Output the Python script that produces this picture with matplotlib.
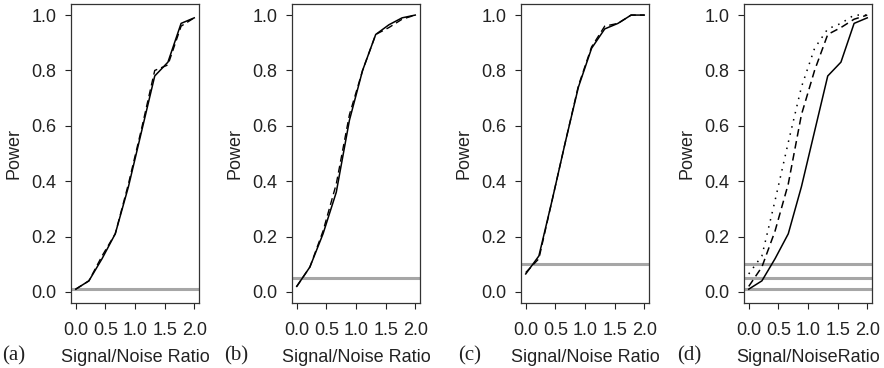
import numpy as np
import matplotlib
matplotlib.use("Agg")
import matplotlib.pyplot as plt

# signal/noise ratio grid
snr = [0.0, 0.222, 0.444, 0.667, 0.889, 1.111, 1.333, 1.556, 1.778, 2.0]

# power curves
a_solid = [0.01, 0.04, 0.12, 0.21, 0.38, 0.58, 0.78, 0.83, 0.97, 0.99]
a_dash = [0.01, 0.04, 0.13, 0.21, 0.39, 0.59, 0.80, 0.82, 0.96, 0.99]
b_solid = [0.02, 0.09, 0.21, 0.36, 0.62, 0.80, 0.93, 0.965, 0.99, 1.0]
b_dash = [0.02, 0.09, 0.22, 0.39, 0.64, 0.80, 0.93, 0.955, 0.985, 1.0]
c_solid = [0.065, 0.13, 0.33, 0.54, 0.74, 0.88, 0.95, 0.97, 1.0, 1.0]
c_dash = [0.07, 0.12, 0.33, 0.54, 0.745, 0.885, 0.96, 0.97, 1.0, 1.0]

alphas = [0.01, 0.05, 0.10]
panel_tags = ["(a)", "(b)", "(c)", "(d)"]
xlabels = ["Signal/Noise Ratio", "Signal/Noise Ratio", "Signal/Noise Ratio", "Signal/NoiseRatio"]
xticks = [0.0, 0.5, 1.0, 1.5, 2.0]
yticks = [0.0, 0.2, 0.4, 0.6, 0.8, 1.0]

W, H = 884, 368
fig = plt.figure(figsize=(W / 100, H / 100), dpi=100)
plt.rcParams['font.family'] = ['Liberation Sans', 'DejaVu Sans']

# axes boxes in pixels
box_left = [71, 292, 521, 744]
box_w = 128
box_top, box_bot = 4, 303
tag_x = [14, 236, 470, 689]

fs = 13
gray = '#a6a6a6'
dash = (5, 3)
dot = (1, 3.8)

axes = []
for i in range(4):
    ax = fig.add_axes([box_left[i] / W, 1 - box_bot / H, box_w / W, (box_bot - box_top) / H])
    axes.append(ax)

def style(ax, i):
    ax.set_xlim(-0.08, 2.08)
    ax.set_ylim(-0.04, 1.04)
    ax.set_xticks(xticks)
    ax.set_xticklabels([f"{v:.1f}" for v in xticks])
    ax.set_yticks(yticks)
    ax.set_yticklabels([f"{v:.1f}" for v in yticks])
    ax.tick_params(direction='out', length=4.3, width=0.8, labelsize=fs,
                   colors='#222222')
    ax.tick_params(axis='x', pad=9.5)
    ax.tick_params(axis='y', pad=6)
    for s in ax.spines.values():
        s.set_linewidth(0.9)
        s.set_color('#333333')
    ax.text(-57 / box_w, 0.5, "Power", transform=ax.transAxes, rotation=90,
            ha='center', va='center', fontsize=fs, color='#222222')
    cx = (box_left[i] + box_w / 2) / W
    fig.text(cx, 1 - 357 / H, xlabels[i], ha='center', va='center', fontsize=fs,
             color='#222222')
    fig.text(tag_x[i] / W, 1 - 356 / H, panel_tags[i], ha='center', va='center',
             fontsize=15, family=['Liberation Serif', 'DejaVu Serif'], color='#222222')

# (a)
ax = axes[0]
ax.axhline(alphas[0], color=gray, lw=2.2)
ax.plot(snr, a_solid, color='black', lw=1.1)
ax.plot(snr, a_dash, color='black', lw=1.0, dashes=dash)

# (b)
ax = axes[1]
ax.axhline(alphas[1], color=gray, lw=2.2)
ax.plot(snr, b_solid, color='black', lw=1.1)
ax.plot(snr, b_dash, color='black', lw=1.0, dashes=dash)

# (c)
ax = axes[2]
ax.axhline(alphas[2], color=gray, lw=2.2)
ax.plot(snr, c_solid, color='black', lw=1.1)
ax.plot(snr, c_dash, color='black', lw=1.0, dashes=dash)

# (d)
ax = axes[3]
for a in alphas:
    ax.axhline(a, color=gray, lw=2.2)
ax.plot(snr, a_solid, color='black', lw=1.1)
ax.plot(snr, b_dash, color='black', lw=1.1, dashes=dash)
ax.plot(snr, c_solid, color='black', lw=1.1, dashes=dot)

for i, ax in enumerate(axes):
    style(ax, i)

fig.savefig("out.png", dpi=100)
